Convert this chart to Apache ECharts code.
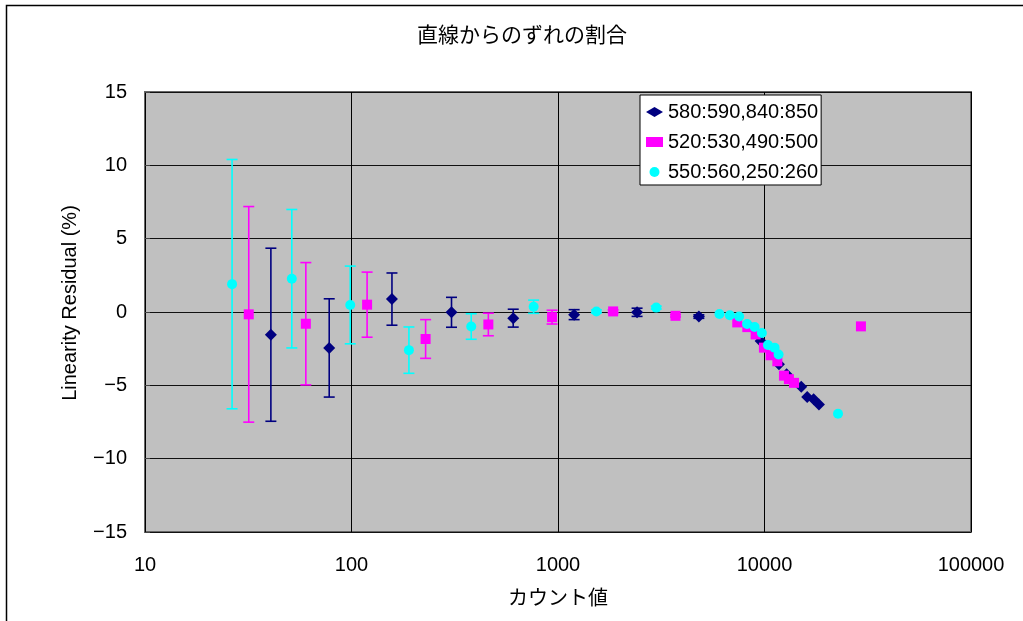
<!DOCTYPE html>
<html>
<head>
<meta charset="utf-8">
<script src="https://cdn.jsdelivr.net/npm/echarts@6/dist/echarts.min.js"></script>
<style>
html,body{margin:0;padding:0;background:#fff;}
#chart{width:1023px;height:621px;}
</style>
</head>
<body>
<div id="chart"></div>
<script>
// ---- Data ----
const titleText = '直線からのずれの割合';
const xAxisName = 'カウント値';
const yAxisName = 'Linearity Residual (%)';
const seriesNames = ['580:590,840:850', '520:530,490:500', '550:560,250:260'];
const seriesColors = ['#000080', '#FF00FF', '#00FFFF'];
const seriesSymbols = ['diamond', 'rect', 'circle'];
const seriesSymbolSizes = [12, 10, 10];

// 580:590,840:850 (navy diamonds)
const navyCounts    = [40.7, 78, 157, 305, 607, 1197, 2415, 4810, 9580, 11750, 12800, 15070, 16100, 17290, 18350];
const navyResidual  = [-1.55, -2.45, 0.88, -0.02, -0.42, -0.18, -0.02, -0.31, -1.98, -3.57, -4.25, -5.1, -5.8, -5.95, -6.31];
const navyError     = [5.9, 3.35, 1.78, 1.02, 0.61, 0.34, 0.28, 0.12, 0, 0, 0, 0, 0, 0, 0];

// 520:530,490:500 (magenta squares)
const magCounts     = [31.8, 60.1, 119, 228.5, 460, 936, 1849, 3707, 7380, 8254, 9057, 9936, 10710, 11540, 12420, 13130, 13900, 29310];
const magResidual   = [-0.16, -0.8, 0.5, -1.84, -0.85, -0.35, 0.04, -0.26, -0.71, -1.03, -1.53, -2.43, -2.95, -3.36, -4.34, -4.58, -4.83, -0.98];
const magError      = [7.35, 4.17, 2.22, 1.32, 0.77, 0.47, 0.1, 0.08, 0, 0, 0, 0, 0, 0, 0, 0, 0, 0];

// 550:560,250:260 (cyan circles)
const cyanCounts    = [26.4, 51.4, 98.6, 189.7, 380, 762, 1535, 2991, 6050, 6795, 7536, 8236, 8960, 9710, 10390, 11190, 11700, 22700];
const cyanResidual  = [1.9, 2.27, 0.48, -2.6, -0.99, 0.36, 0.04, 0.3, -0.14, -0.22, -0.31, -0.82, -1.02, -1.43, -2.25, -2.43, -2.9, -6.94];
const cyanError     = [8.5, 4.72, 2.65, 1.58, 0.87, 0.45, 0.1, 0.1, 0, 0, 0, 0, 0, 0, 0, 0, 0, 0];

const xTicks = [10, 100, 1000, 10000, 100000];
const yMin = -15, yMax = 15, yInterval = 5;

// ---- Build chart ----
const FONT = "'Liberation Sans', 'Noto Sans CJK JP', sans-serif";
const groups = [
  [navyCounts, navyResidual, navyError],
  [magCounts, magResidual, magError],
  [cyanCounts, cyanResidual, cyanError]
];

function zipData(g) {
  return g[0].map((x, i) => [x, g[1][i], g[2][i]]);
}

function makeErrorRenderer(color) {
  return function (params, api) {
    const x = api.value(0), y = api.value(1), e = api.value(2);
    if (!e) return null;
    const top = api.coord([x, y + e]);
    const bot = api.coord([x, y - e]);
    const hw = 5.5;
    const style = { stroke: color, lineWidth: 1.6 };
    return {
      type: 'group',
      children: [
        { type: 'line', shape: { x1: top[0], y1: top[1], x2: bot[0], y2: bot[1] }, style: style },
        { type: 'line', shape: { x1: top[0] - hw, y1: top[1], x2: top[0] + hw, y2: top[1] }, style: style },
        { type: 'line', shape: { x1: bot[0] - hw, y1: bot[1], x2: bot[0] + hw, y2: bot[1] }, style: style }
      ]
    };
  };
}

const series = [];
groups.forEach((g, i) => {
  series.push({
    type: 'custom',
    name: seriesNames[i] + ' error',
    renderItem: makeErrorRenderer(seriesColors[i]),
    encode: { x: 0, y: 1 },
    data: zipData(g),
    z: 2,
    silent: true
  });
});
groups.forEach((g, i) => {
  series.push({
    type: 'scatter',
    name: seriesNames[i],
    symbol: seriesSymbols[i],
    symbolSize: seriesSymbolSizes[i],
    itemStyle: { color: seriesColors[i], opacity: 1 },
    data: g[0].map((x, k) => [x, g[1][k]]),
    z: 3 + i
  });
});

const chart = echarts.init(document.getElementById('chart'), null, { renderer: 'canvas' });
chart.setOption({
  animation: false,
  backgroundColor: '#ffffff',
  textStyle: { fontFamily: FONT },
  title: {
    text: titleText,
    left: 412,
    top: 21,
    textStyle: { fontFamily: FONT, fontSize: 21, fontWeight: 'normal', color: '#000' }
  },
  graphic: [{
    type: 'rect',
    left: 4, top: 3,
    shape: { width: 1100, height: 700 },
    style: { fill: 'none', stroke: '#000', lineWidth: 1.5 },
    silent: true,
    z: -10
  }],
  legend: {
    orient: 'vertical',
    left: 640,
    top: 95,
    padding: [7, 3, 3, 6],
    itemGap: 10,
    itemWidth: 17,
    itemHeight: 10,
    backgroundColor: '#ffffff',
    borderColor: '#000',
    borderWidth: 1,
    borderRadius: 0,
    data: seriesNames.map((n, i) => ({ name: n, icon: seriesSymbols[i] })),
    textStyle: { fontFamily: FONT, fontSize: 20, color: '#000' }
  },
  grid: {
    left: 145, right: 52, top: 92, bottom: 89,
    show: true,
    backgroundColor: '#C0C0C0',
    borderColor: '#666666',
    borderWidth: 2
  },
  xAxis: {
    type: 'log',
    logBase: 10,
    min: xTicks[0],
    max: xTicks[xTicks.length - 1],
    name: xAxisName,
    nameLocation: 'middle',
    nameGap: 57,
    nameTextStyle: { fontFamily: FONT, fontSize: 20, color: '#000' },
    axisLine: { show: false },
    axisTick: { show: false },
    splitLine: { show: true, lineStyle: { color: '#000', width: 1 } },
    minorTick: { show: false },
    axisLabel: {
      fontFamily: FONT, fontSize: 20, color: '#000', margin: 23,
      formatter: v => String(Math.round(v))
    }
  },
  yAxis: {
    type: 'value',
    min: yMin, max: yMax, interval: yInterval,
    name: yAxisName,
    nameLocation: 'middle',
    nameGap: 65,
    nameRotate: 90,
    nameTextStyle: { fontFamily: FONT, fontSize: 20, color: '#000', padding: [0, 0, 0, 18] },
    axisLine: { show: false },
    axisTick: { show: true, inside: true, length: 5, lineStyle: { color: '#444' } },
    splitLine: { show: true, lineStyle: { color: '#111', width: 1 } },
    axisLabel: {
      fontFamily: FONT, fontSize: 20, color: '#000', margin: 18,
      formatter: v => (v < 0 ? '\u2212' + Math.abs(v) : String(v))
    }
  },
  series: series
});
</script>
</body>
</html>
